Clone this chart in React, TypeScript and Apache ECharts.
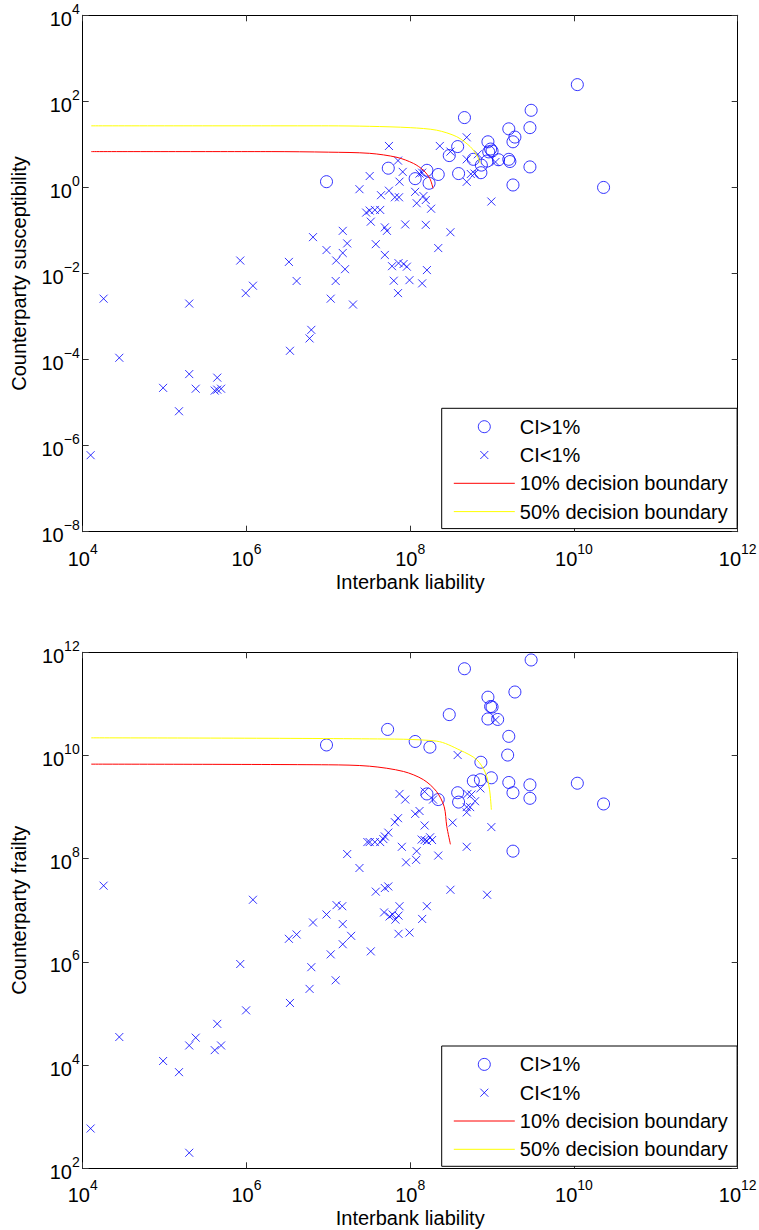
import React, { useEffect, useRef } from "react";
import * as echarts from "echarts";

const FONT = '"Liberation Sans", Arial, Helvetica, sans-serif';
const BLUE = "#0000ff";
const CROSS = "path://M0,0M12,12M2,2L10,10M10,2L2,10";

// Top panel: interbank liability vs counterparty susceptibility
const suscHigh: [number, number][] = [
  [1.1e10, 245], [2.3e10, 1.0], [3.0e9, 62], [2.9e9, 24.5], [2.9e9, 3.0], [1.8e9, 1.14],
  [1.6e9, 23], [1.9e9, 14.8], [1.8e9, 11.5], [1.6e9, 4.5], [1.65e9, 4.0], [4.6e8, 42],
  [8.9e8, 11.5], [9.6e8, 7.8], [1.0e9, 7.0], [9.1e8, 6.7], [1.2e9, 4.4], [8.7e8, 4.1],
  [7.4e8, 3.3], [7.3e8, 2.2], [5.9e8, 4.5], [3.9e8, 2.1], [3.8e8, 8.9], [3.0e8, 5.5],
  [2.2e8, 2.0], [1.6e8, 2.5], [1.7e8, 1.25], [1.15e8, 1.6], [5.4e7, 2.8], [9.5e6, 1.36],
];
const suscLow: [number, number][] = [
  [1.25e4, 6e-7], [1.8e4, 2.6e-3], [2.8e4, 1.1e-4], [9.6e4, 2.2e-5], [1.5e5, 6.3e-6],
  [2e5, 2e-3], [2e5, 4.6e-5], [2.4e5, 2.1e-5], [4.1e5, 1.9e-5], [4.4e5, 3.8e-5],
  [4.4e5, 2e-5], [4.9e5, 2.1e-5], [8.4e5, 0.02], [9.8e5, 3.5e-3], [1.2e6, 5.2e-3],
  [3.4e6, 1.6e-4], [3.3e6, 0.0186], [4.1e6, 6.7e-3], [5.9e6, 3.1e-4], [6.2e6, 4.9e-4],
  [6.5e6, 0.07], [9.5e6, 0.035], [1.07e7, 2.6e-3], [1.23e7, 6.7e-3], [1.25e7, 0.02],
  [1.5e7, 0.098], [1.5e7, 0.03], [1.6e7, 0.0126], [1.7e7, 0.05], [2e7, 1.9e-3],
  [2.4e7, 0.91], [3.2e7, 1.84], [2.9e7, 0.26], [3.2e7, 0.29], [3.3e7, 0.16],
  [3.8e7, 0.048], [3.7e7, 0.3], [4.3e7, 0.3], [4.4e7, 0.66], [5.5e7, 0.84],
  [6.5e7, 0.59], [7.3e7, 0.59], [5.5e7, 9.2], [7.1e7, 4.2], [8.1e7, 2.3],
  [7.4e7, 1.36], [1.15e8, 0.79], [1.45e8, 0.63], [1.2e8, 0.43], [1.55e8, 0.51],
  [1.8e8, 0.32], [4.9e7, 0.118], [5.2e7, 0.098], [8.7e7, 0.138], [1.55e8, 0.135],
  [4.9e7, 0.027], [6e7, 0.0148], [7.2e7, 0.0174], [8.3e7, 0.0166], [9.1e7, 0.0144],
  [1.6e8, 0.012], [6.3e7, 6.8e-3], [9.8e7, 7e-3], [1.4e8, 5.9e-3], [7.1e7, 3.5e-3],
  [2.2e8, 0.039], [3.1e8, 0.091], [9.8e8, 0.47], [4.9e8, 14.6], [2.3e8, 9.2],
  [3.1e8, 6.8], [4.9e8, 4.5], [4.9e8, 1.35], [5.5e8, 2.05], [6.1e8, 2.1],
  [1.1e9, 3.9], [6.7e8, 5.9], [1.3e8, 2.1], [1.4e8, 2.2],
];
const suscBoundary10: [number, number][] = [
  [1.27e4, 6.8], [2e6, 6.8], [1e7, 6.6], [3.2e7, 6.2], [6.9e7, 5.0], [1.1e8, 3.6],
  [1.45e8, 2.5], [1.74e8, 1.6], [1.9e8, 0.95],
];
const suscBoundary50: [number, number][] = [
  [1.27e4, 27], [1e7, 27], [3.2e7, 26.3], [1e8, 24.5], [2.1e8, 21.4], [3.7e8, 15.1],
  [5.4e8, 8.9], [6.5e8, 5.6], [7.2e8, 3.6],
];

// Bottom panel: interbank liability vs counterparty frailty
const frailHigh: [number, number][] = [
  [3e9, 7.1e11], [4.6e8, 4.8e11], [1.9e9, 1.7e11], [8.9e8, 1.35e11], [9.6e8, 8.9e10],
  [1e9, 8.7e10], [8.9e8, 5.1e10], [1.17e9, 5e10], [3e8, 6.2e10], [5.3e7, 3.2e10],
  [1.6e9, 2.35e10], [1.55e9, 1.02e10], [1.15e8, 1.87e10], [1.74e8, 1.45e10], [9.5e6, 1.6e10],
  [7.3e8, 7.4e9], [9.8e8, 3.7e9], [5.9e8, 3.2e9], [7.2e8, 3.4e9], [1.6e9, 3e9],
  [1.8e9, 1.9e9], [2.9e9, 2.7e9], [2.9e9, 1.48e9], [1.1e10, 2.9e9], [2.3e10, 1.15e9],
  [1.8e9, 1.4e8], [3.8e8, 1.9e9], [3.9e8, 1.25e9], [1.6e8, 1.8e9], [2.2e8, 1.4e9],
];
const frailLow: [number, number][] = [
  [1.25e4, 590], [2e5, 200], [2.8e4, 3.5e4], [9.6e4, 1.2e4], [1.5e5, 7300],
  [2e5, 2.4e4], [2.4e5, 3.4e4], [4.1e5, 1.95e4], [4.4e5, 6.3e4], [4.9e5, 2.4e4],
  [8.4e5, 9.1e5], [9.9e5, 1.15e5], [3.4e6, 1.6e5], [3.3e6, 2.8e6], [4.1e6, 3.4e6],
  [5.9e6, 3e5], [6.2e6, 7.9e5], [6.5e6, 5.8e6], [1.07e7, 1.4e6], [1.23e7, 4.4e5],
  [1.5e7, 2.2e6], [1.9e7, 3.2e6], [1.5e7, 5.4e6], [3.3e7, 1.6e6], [1.8e4, 3e7],
  [1.2e6, 1.6e7], [9.5e6, 8.3e6], [1.26e7, 1.26e7], [1.48e7, 1.2e7], [1.7e7, 1.23e8],
  [2.4e7, 6.6e7], [3e7, 2.1e8], [3.2e7, 2.1e8], [3.8e7, 2.3e7], [7.4e7, 1.8e9],
  [8.7e7, 1.4e9], [1.5e8, 2e9], [1.9e8, 1.4e9], [1.15e8, 7.4e8], [1.3e8, 8.4e8],
  [1.5e8, 4.4e8], [6.5e7, 5.1e8], [7.1e7, 6.1e8], [5.4e7, 3.2e8], [4.9e7, 2.7e8],
  [3.7e7, 2.1e8], [4.3e7, 2.1e8], [4.7e7, 2.4e8], [7.9e7, 1.7e8], [8.9e7, 8.5e7],
  [1.2e8, 1.4e8], [1.18e8, 9.5e7], [1.38e8, 2.35e8], [1.5e8, 2.3e8], [1.6e8, 2.2e8],
  [1.75e8, 2.6e8], [1.85e8, 2.3e8], [2.2e8, 1.15e8], [4.9e7, 2.7e7], [5.4e7, 2.9e7],
  [4.8e7, 9.1e6], [6.1e7, 8.3e6], [6.6e7, 6.6e6], [7.2e7, 7.9e6], [7.4e7, 1.2e7],
  [5.6e7, 7.6e6], [7.2e7, 3.5e6], [9.8e7, 3.7e6], [1.6e8, 1.2e7], [1.4e8, 6.8e6],
  [3.8e8, 1.02e10], [1.1e9, 4.9e10], [5e8, 1.8e9], [5.6e8, 1.75e9], [6.2e8, 1.3e9],
  [7.2e8, 2.3e9], [4.9e8, 1e9], [5.4e8, 1e9], [4.9e8, 7.9e8], [3.3e8, 5e8],
  [9.8e8, 4.1e8], [4.9e8, 1.7e8], [3.1e8, 2.5e7], [8.7e8, 2e7],
];
const frailBoundary10: [number, number][] = [
  [1.27e4, 6.8e9], [1e7, 6.6e9], [3.2e7, 6.2e9], [8.3e7, 4.9e9], [1.45e8, 3.4e9],
  [2.1e8, 2e9], [2.6e8, 1.02e9], [2.8e8, 4.2e8], [3.1e8, 1.9e8],
];
const frailBoundary50: [number, number][] = [
  [1.27e4, 2.2e10], [3.2e7, 2.1e10], [2.1e8, 1.9e10], [4.1e8, 1.26e10], [6.5e8, 8.3e9],
  [8.3e8, 4.6e9], [9.3e8, 2.2e9], [9.8e8, 8.9e8],
];

const X_NAME = "Interbank liability";
const Y_NAMES = ["Counterparty susceptibility", "Counterparty frailty"];
const LEGEND_NAMES = ["CI>1%", "CI<1%", "10% decision boundary", "50% decision boundary"];

const powLabel = (v: number) => {
  const e = Math.round(Math.log10(v));
  return `{b|10}{s|${e < 0 ? "\u2212" + Math.abs(e) : e}}`;
};
const rich = {
  b: { fontSize: 20, fontFamily: FONT, color: "#000", lineHeight: 27, verticalAlign: "bottom" },
  s: { fontSize: 14, fontFamily: FONT, color: "#000", lineHeight: 14, verticalAlign: "top" },
};

const GRIDS = [
  { left: 82.7, top: 15.3, width: 655, height: 516.4 },
  { left: 82.7, top: 652.3, width: 655, height: 516 },
];
const Y_RANGES = [
  [1e-8, 1e4],
  [1e2, 1e12],
];

function App() {
  const ref = useRef<HTMLDivElement>(null);
  useEffect(() => {
    if (!ref.current) return;
    const chart = echarts.init(ref.current, undefined, { renderer: "svg" });
    const tick = { show: true, inside: true, length: 6, lineStyle: { color: "#333", width: 1 } };
    const line = { show: true, onZero: false, lineStyle: { color: "#000", width: 1 } };
    const xAxis: any[] = [];
    const yAxis: any[] = [];
    [0, 1].forEach((g) => {
      ["bottom", "top"].forEach((pos) => {
        xAxis.push({
          type: "log", logBase: 10, gridIndex: g, position: pos, min: 1e4, max: 1e12, interval: 2,
          axisLine: line, axisTick: tick, splitLine: { show: false }, minorTick: { show: false },
          axisLabel: pos === "bottom" ? { show: true, formatter: powLabel, rich, margin: 10 } : { show: false },
          name: pos === "bottom" ? X_NAME : "", nameLocation: "middle", nameGap: 40,
          nameTextStyle: { fontSize: 20, fontFamily: FONT, color: "#000" },
        });
      });
      ["left", "right"].forEach((pos) => {
        yAxis.push({
          type: "log", logBase: 10, gridIndex: g, position: pos, min: Y_RANGES[g][0], max: Y_RANGES[g][1], interval: 2,
          axisLine: line, axisTick: tick, splitLine: { show: false }, minorTick: { show: false },
          axisLabel: pos === "left" ? { show: true, formatter: powLabel, rich, margin: 3 } : { show: false },
          name: pos === "left" ? Y_NAMES[g] : "", nameLocation: "middle", nameGap: 54,
          nameTextStyle: { fontSize: 20, fontFamily: FONT, color: "#000" },
        });
      });
    });
    const panels = [
      [suscHigh, suscLow, suscBoundary10, suscBoundary50],
      [frailHigh, frailLow, frailBoundary10, frailBoundary50],
    ];
    const series: any[] = [];
    const lineColors = ["#ff0000", "#ffff00"];
    panels.forEach((p, g) => {
      const xi = g * 2, yi = g * 2;
      series.push({
        type: "scatter", name: LEGEND_NAMES[0], xAxisIndex: xi, yAxisIndex: yi, data: p[0],
        symbol: "circle", symbolSize: 12,
        itemStyle: { color: "rgba(0,0,0,0)", borderColor: BLUE, borderWidth: 1 },
        emphasis: { disabled: true },
      });
      series.push({
        type: "scatter", name: LEGEND_NAMES[1], xAxisIndex: xi, yAxisIndex: yi, data: p[1],
        symbol: CROSS, symbolSize: 12,
        itemStyle: { color: "rgba(0,0,0,0)", borderColor: BLUE, borderWidth: 1 },
        emphasis: { disabled: true },
      });
      [2, 3].forEach((k, j) => {
        series.push({
          type: "line", name: LEGEND_NAMES[k], xAxisIndex: xi, yAxisIndex: yi, data: p[k],
          symbol: "none", smooth: 0.3,
          itemStyle: { color: "rgba(0,0,0,0)", borderWidth: 0 },
          lineStyle: { color: lineColors[j], width: 1 },
          emphasis: { disabled: true },
        });
      });
    });
    const legend = (top: number) => ({
      left: 441.7, top, orient: "vertical", data: LEGEND_NAMES, selectedMode: false,
      backgroundColor: "#fff", borderColor: "#000", borderWidth: 1,
      padding: [8.4, 9.4, 7, 11.6], itemWidth: 61, itemHeight: 12, itemGap: 8.3,
      itemStyle: { borderWidth: 1 },
      lineStyle: { width: 1 },
      textStyle: { fontSize: 20, fontFamily: FONT, color: "#000", lineHeight: 20 },
    });
    chart.setOption({
      animation: false,
      backgroundColor: "#fff",
      textStyle: { fontFamily: FONT },
      grid: GRIDS.map((g) => ({ ...g, containLabel: false, outerBoundsMode: "none" })),
      xAxis, yAxis, series,
      legend: [legend(408.3), legend(1046)],
    });
    return () => chart.dispose();
  }, []);
  return <div ref={ref} style={{ position: "absolute", left: 0, top: 0, width: 759, height: 1230 }} />;
}

export default App;
